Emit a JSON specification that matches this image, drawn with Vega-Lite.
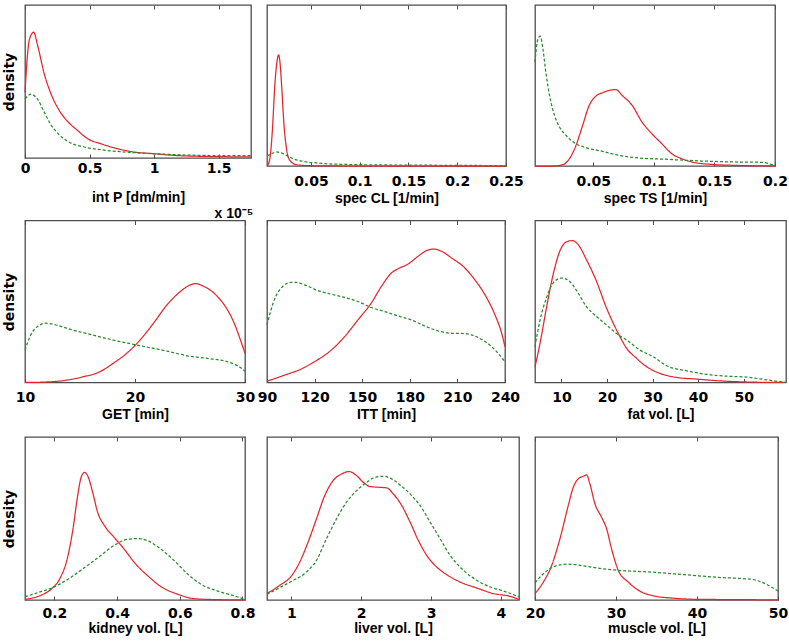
{
  "$schema": "https://vega.github.io/schema/vega-lite/v6.json",
  "padding": {"left": 1, "top": 3, "right": 0, "bottom": 0},
  "datasets": {
    "d": [
      {"p":1,"s":"a","x":0,"y":0.43},{"p":1,"s":"a","x":0.021,"y":0.69},{"p":1,"s":"a","x":0.034,"y":0.774},{"p":1,"s":"a","x":0.067,"y":0.822},{"p":1,"s":"a","x":0.098,"y":0.735},{"p":1,"s":"a","x":0.149,"y":0.55},{"p":1,"s":"a","x":0.201,"y":0.42},{"p":1,"s":"a","x":0.265,"y":0.311},{"p":1,"s":"a","x":0.33,"y":0.239},{"p":1,"s":"a","x":0.407,"y":0.18},{"p":1,"s":"a","x":0.485,"y":0.126},{"p":1,"s":"a","x":0.588,"y":0.093},{"p":1,"s":"a","x":0.716,"y":0.061},{"p":1,"s":"a","x":0.845,"y":0.039},{"p":1,"s":"a","x":1.0,"y":0.028},{"p":1,"s":"a","x":1.155,"y":0.017},{"p":1,"s":"a","x":1.361,"y":0.011},{"p":1,"s":"a","x":1.747,"y":0.007},
      {"p":1,"s":"b","x":0,"y":0.387},{"p":1,"s":"b","x":0.046,"y":0.417},{"p":1,"s":"b","x":0.098,"y":0.383},{"p":1,"s":"b","x":0.149,"y":0.3},{"p":1,"s":"b","x":0.201,"y":0.217},{"p":1,"s":"b","x":0.265,"y":0.152},{"p":1,"s":"b","x":0.33,"y":0.109},{"p":1,"s":"b","x":0.459,"y":0.072},{"p":1,"s":"b","x":0.588,"y":0.054},{"p":1,"s":"b","x":0.845,"y":0.035},{"p":1,"s":"b","x":1.103,"y":0.024},{"p":1,"s":"b","x":1.361,"y":0.017},{"p":1,"s":"b","x":1.747,"y":0.015},

      {"p":2,"s":"a","x":0.0051,"y":0},{"p":2,"s":"a","x":0.0079,"y":0.045},{"p":2,"s":"a","x":0.0106,"y":0.23},{"p":2,"s":"a","x":0.013,"y":0.5},{"p":2,"s":"a","x":0.0154,"y":0.655},{"p":2,"s":"a","x":0.0168,"y":0.69},{"p":2,"s":"a","x":0.0181,"y":0.655},{"p":2,"s":"a","x":0.0202,"y":0.48},{"p":2,"s":"a","x":0.0222,"y":0.273},{"p":2,"s":"a","x":0.025,"y":0.107},{"p":2,"s":"a","x":0.0284,"y":0.035},{"p":2,"s":"a","x":0.0352,"y":0.008},{"p":2,"s":"a","x":0.0489,"y":0.002},{"p":2,"s":"a","x":0.0797,"y":0},{"p":2,"s":"a","x":0.25,"y":0},
      {"p":2,"s":"b","x":0.0051,"y":0.062},{"p":2,"s":"b","x":0.0096,"y":0.076},{"p":2,"s":"b","x":0.0147,"y":0.087},{"p":2,"s":"b","x":0.0198,"y":0.081},{"p":2,"s":"b","x":0.025,"y":0.066},{"p":2,"s":"b","x":0.0318,"y":0.045},{"p":2,"s":"b","x":0.042,"y":0.029},{"p":2,"s":"b","x":0.0557,"y":0.019},{"p":2,"s":"b","x":0.0831,"y":0.01},{"p":2,"s":"b","x":0.1344,"y":0.006},{"p":2,"s":"b","x":0.2028,"y":0.004},{"p":2,"s":"b","x":0.25,"y":0.002},

      {"p":3,"s":"a","x":0.002,"y":0},{"p":3,"s":"a","x":0.0167,"y":0},{"p":3,"s":"a","x":0.0249,"y":0.008},{"p":3,"s":"a","x":0.0304,"y":0.045},{"p":3,"s":"a","x":0.0358,"y":0.128},{"p":3,"s":"a","x":0.0413,"y":0.252},{"p":3,"s":"a","x":0.0467,"y":0.376},{"p":3,"s":"a","x":0.0522,"y":0.434},{"p":3,"s":"a","x":0.0576,"y":0.455},{"p":3,"s":"a","x":0.0631,"y":0.469},{"p":3,"s":"a","x":0.0685,"y":0.475},{"p":3,"s":"a","x":0.074,"y":0.438},{"p":3,"s":"a","x":0.0822,"y":0.376},{"p":3,"s":"a","x":0.0903,"y":0.273},{"p":3,"s":"a","x":0.0985,"y":0.2},{"p":3,"s":"a","x":0.1067,"y":0.138},{"p":3,"s":"a","x":0.1149,"y":0.076},{"p":3,"s":"a","x":0.1231,"y":0.045},{"p":3,"s":"a","x":0.134,"y":0.021},{"p":3,"s":"a","x":0.1476,"y":0.01},{"p":3,"s":"a","x":0.1667,"y":0.004},{"p":3,"s":"a","x":0.2,"y":0},
      {"p":3,"s":"b","x":0.002,"y":0.645},{"p":3,"s":"b","x":0.0044,"y":0.789},{"p":3,"s":"b","x":0.0064,"y":0.806},{"p":3,"s":"b","x":0.0085,"y":0.727},{"p":3,"s":"b","x":0.0113,"y":0.562},{"p":3,"s":"b","x":0.014,"y":0.438},{"p":3,"s":"b","x":0.0181,"y":0.314},{"p":3,"s":"b","x":0.0222,"y":0.242},{"p":3,"s":"b","x":0.0276,"y":0.19},{"p":3,"s":"b","x":0.0358,"y":0.138},{"p":3,"s":"b","x":0.044,"y":0.114},{"p":3,"s":"b","x":0.0576,"y":0.091},{"p":3,"s":"b","x":0.0713,"y":0.066},{"p":3,"s":"b","x":0.0849,"y":0.052},{"p":3,"s":"b","x":0.1122,"y":0.041},{"p":3,"s":"b","x":0.1394,"y":0.031},{"p":3,"s":"b","x":0.1667,"y":0.025},{"p":3,"s":"b","x":0.1885,"y":0.023},{"p":3,"s":"b","x":0.2,"y":0.004},

      {"p":4,"s":"a","x":10,"y":0},{"p":4,"s":"a","x":12.2,"y":0.004},{"p":4,"s":"a","x":13.73,"y":0.014},{"p":4,"s":"a","x":15.26,"y":0.035},{"p":4,"s":"a","x":16.79,"y":0.066},{"p":4,"s":"a","x":18.01,"y":0.118},{"p":4,"s":"a","x":19.24,"y":0.18},{"p":4,"s":"a","x":20.46,"y":0.262},{"p":4,"s":"a","x":21.68,"y":0.366},{"p":4,"s":"a","x":22.91,"y":0.479},{"p":4,"s":"a","x":24.13,"y":0.562},{"p":4,"s":"a","x":25.05,"y":0.603},{"p":4,"s":"a","x":25.5,"y":0.61},{"p":4,"s":"a","x":26.27,"y":0.593},{"p":4,"s":"a","x":27.49,"y":0.531},{"p":4,"s":"a","x":28.41,"y":0.448},{"p":4,"s":"a","x":29.02,"y":0.366},{"p":4,"s":"a","x":29.48,"y":0.283},{"p":4,"s":"a","x":30,"y":0.18},
      {"p":4,"s":"b","x":10,"y":0.2},{"p":4,"s":"b","x":10.52,"y":0.293},{"p":4,"s":"b","x":11.13,"y":0.345},{"p":4,"s":"b","x":11.9,"y":0.366},{"p":4,"s":"b","x":12.81,"y":0.355},{"p":4,"s":"b","x":14.34,"y":0.324},{"p":4,"s":"b","x":16.18,"y":0.293},{"p":4,"s":"b","x":18.01,"y":0.262},{"p":4,"s":"b","x":19.85,"y":0.236},{"p":4,"s":"b","x":21.38,"y":0.215},{"p":4,"s":"b","x":22.91,"y":0.194},{"p":4,"s":"b","x":24.74,"y":0.165},{"p":4,"s":"b","x":26.57,"y":0.149},{"p":4,"s":"b","x":28.41,"y":0.128},{"p":4,"s":"b","x":29.33,"y":0.103},{"p":4,"s":"b","x":30,"y":0.07},

      {"p":5,"s":"a","x":90,"y":0.008},{"p":5,"s":"a","x":101,"y":0.045},{"p":5,"s":"a","x":111.5,"y":0.083},{"p":5,"s":"a","x":119.9,"y":0.128},{"p":5,"s":"a","x":130.5,"y":0.2},{"p":5,"s":"a","x":138.9,"y":0.283},{"p":5,"s":"a","x":147.3,"y":0.386},{"p":5,"s":"a","x":155.7,"y":0.49},{"p":5,"s":"a","x":162.1,"y":0.593},{"p":5,"s":"a","x":168.4,"y":0.676},{"p":5,"s":"a","x":172.6,"y":0.702},{"p":5,"s":"a","x":178.9,"y":0.731},{"p":5,"s":"a","x":185.2,"y":0.779},{"p":5,"s":"a","x":190.5,"y":0.814},{"p":5,"s":"a","x":194.7,"y":0.824},{"p":5,"s":"a","x":200,"y":0.81},{"p":5,"s":"a","x":206.3,"y":0.769},{"p":5,"s":"a","x":214.7,"y":0.707},{"p":5,"s":"a","x":221,"y":0.634},{"p":5,"s":"a","x":227.4,"y":0.541},{"p":5,"s":"a","x":233.7,"y":0.417},{"p":5,"s":"a","x":237.9,"y":0.304},{"p":5,"s":"a","x":240,"y":0.221},
      {"p":5,"s":"b","x":90,"y":0.355},{"p":5,"s":"b","x":94.6,"y":0.51},{"p":5,"s":"b","x":99.9,"y":0.593},{"p":5,"s":"b","x":105.2,"y":0.618},{"p":5,"s":"b","x":108.3,"y":0.618},{"p":5,"s":"b","x":113.6,"y":0.603},{"p":5,"s":"b","x":122,"y":0.568},{"p":5,"s":"b","x":130.5,"y":0.545},{"p":5,"s":"b","x":138.9,"y":0.525},{"p":5,"s":"b","x":147.3,"y":0.5},{"p":5,"s":"b","x":155.7,"y":0.463},{"p":5,"s":"b","x":164.2,"y":0.438},{"p":5,"s":"b","x":172.6,"y":0.411},{"p":5,"s":"b","x":181,"y":0.386},{"p":5,"s":"b","x":189.4,"y":0.349},{"p":5,"s":"b","x":197.9,"y":0.318},{"p":5,"s":"b","x":206.3,"y":0.304},{"p":5,"s":"b","x":214.7,"y":0.302},{"p":5,"s":"b","x":223.2,"y":0.277},{"p":5,"s":"b","x":231.6,"y":0.221},{"p":5,"s":"b","x":240,"y":0.128},

      {"p":6,"s":"a","x":4.2,"y":0.097},{"p":6,"s":"a","x":5.23,"y":0.231},{"p":6,"s":"a","x":6.7,"y":0.459},{"p":6,"s":"a","x":8.17,"y":0.665},{"p":6,"s":"a","x":9.63,"y":0.81},{"p":6,"s":"a","x":11.1,"y":0.868},{"p":6,"s":"a","x":12.42,"y":0.876},{"p":6,"s":"a","x":13.67,"y":0.851},{"p":6,"s":"a","x":15.5,"y":0.758},{"p":6,"s":"a","x":17.71,"y":0.624},{"p":6,"s":"a","x":19.91,"y":0.459},{"p":6,"s":"a","x":21.38,"y":0.366},{"p":6,"s":"a","x":22.84,"y":0.283},{"p":6,"s":"a","x":24.31,"y":0.211},{"p":6,"s":"a","x":26.51,"y":0.149},{"p":6,"s":"a","x":28.72,"y":0.097},{"p":6,"s":"a","x":31.65,"y":0.056},{"p":6,"s":"a","x":35.32,"y":0.031},{"p":6,"s":"a","x":39.72,"y":0.021},{"p":6,"s":"a","x":44.86,"y":0.01},{"p":6,"s":"a","x":52.2,"y":0.002},{"p":6,"s":"a","x":59.3,"y":0},
      {"p":6,"s":"b","x":4.2,"y":0.221},{"p":6,"s":"b","x":5.23,"y":0.376},{"p":6,"s":"b","x":6.7,"y":0.521},{"p":6,"s":"b","x":8.17,"y":0.614},{"p":6,"s":"b","x":10.0,"y":0.645},{"p":6,"s":"b","x":11.83,"y":0.624},{"p":6,"s":"b","x":13.67,"y":0.552},{"p":6,"s":"b","x":15.5,"y":0.469},{"p":6,"s":"b","x":17.71,"y":0.407},{"p":6,"s":"b","x":19.91,"y":0.355},{"p":6,"s":"b","x":22.11,"y":0.302},{"p":6,"s":"b","x":24.31,"y":0.262},{"p":6,"s":"b","x":27.25,"y":0.2},{"p":6,"s":"b","x":30.18,"y":0.159},{"p":6,"s":"b","x":33.12,"y":0.103},{"p":6,"s":"b","x":37.52,"y":0.072},{"p":6,"s":"b","x":41.93,"y":0.05},{"p":6,"s":"b","x":46.33,"y":0.039},{"p":6,"s":"b","x":50.73,"y":0.033},{"p":6,"s":"b","x":54.4,"y":0.019},{"p":6,"s":"b","x":59.3,"y":0},

      {"p":7,"s":"a","x":0.106,"y":0.004},{"p":7,"s":"a","x":0.157,"y":0.029},{"p":7,"s":"a","x":0.189,"y":0.066},{"p":7,"s":"a","x":0.216,"y":0.127},{"p":7,"s":"a","x":0.243,"y":0.27},{"p":7,"s":"a","x":0.259,"y":0.434},{"p":7,"s":"a","x":0.274,"y":0.639},{"p":7,"s":"a","x":0.285,"y":0.752},{"p":7,"s":"a","x":0.296,"y":0.783},{"p":7,"s":"a","x":0.306,"y":0.762},{"p":7,"s":"a","x":0.322,"y":0.66},{"p":7,"s":"a","x":0.338,"y":0.537},{"p":7,"s":"a","x":0.36,"y":0.455},{"p":7,"s":"a","x":0.391,"y":0.383},{"p":7,"s":"a","x":0.423,"y":0.311},{"p":7,"s":"a","x":0.455,"y":0.23},{"p":7,"s":"a","x":0.498,"y":0.148},{"p":7,"s":"a","x":0.54,"y":0.082},{"p":7,"s":"a","x":0.594,"y":0.035},{"p":7,"s":"a","x":0.647,"y":0.008},{"p":7,"s":"a","x":0.721,"y":0.002},{"p":7,"s":"a","x":0.808,"y":0},
      {"p":7,"s":"b","x":0.106,"y":0.02},{"p":7,"s":"b","x":0.147,"y":0.045},{"p":7,"s":"b","x":0.189,"y":0.072},{"p":7,"s":"b","x":0.243,"y":0.127},{"p":7,"s":"b","x":0.296,"y":0.199},{"p":7,"s":"b","x":0.349,"y":0.275},{"p":7,"s":"b","x":0.391,"y":0.336},{"p":7,"s":"b","x":0.434,"y":0.373},{"p":7,"s":"b","x":0.466,"y":0.377},{"p":7,"s":"b","x":0.498,"y":0.363},{"p":7,"s":"b","x":0.54,"y":0.311},{"p":7,"s":"b","x":0.583,"y":0.24},{"p":7,"s":"b","x":0.626,"y":0.158},{"p":7,"s":"b","x":0.668,"y":0.096},{"p":7,"s":"b","x":0.721,"y":0.055},{"p":7,"s":"b","x":0.774,"y":0.025},{"p":7,"s":"b","x":0.808,"y":0.004},

      {"p":8,"s":"a","x":0.651,"y":0.039},{"p":8,"s":"a","x":0.833,"y":0.09},{"p":8,"s":"a","x":1.0,"y":0.147},{"p":8,"s":"a","x":1.12,"y":0.233},{"p":8,"s":"a","x":1.239,"y":0.355},{"p":8,"s":"a","x":1.359,"y":0.498},{"p":8,"s":"a","x":1.478,"y":0.641},{"p":8,"s":"a","x":1.598,"y":0.733},{"p":8,"s":"a","x":1.718,"y":0.773},{"p":8,"s":"a","x":1.828,"y":0.788},{"p":8,"s":"a","x":1.933,"y":0.763},{"p":8,"s":"a","x":2.029,"y":0.722},{"p":8,"s":"a","x":2.124,"y":0.696},{"p":8,"s":"a","x":2.244,"y":0.692},{"p":8,"s":"a","x":2.364,"y":0.688},{"p":8,"s":"a","x":2.459,"y":0.651},{"p":8,"s":"a","x":2.579,"y":0.58},{"p":8,"s":"a","x":2.699,"y":0.478},{"p":8,"s":"a","x":2.818,"y":0.365},{"p":8,"s":"a","x":2.938,"y":0.273},{"p":8,"s":"a","x":3.081,"y":0.202},{"p":8,"s":"a","x":3.225,"y":0.155},{"p":8,"s":"a","x":3.416,"y":0.11},{"p":8,"s":"a","x":3.656,"y":0.073},{"p":8,"s":"a","x":3.895,"y":0.039},{"p":8,"s":"a","x":4.134,"y":0.022},{"p":8,"s":"a","x":4.258,"y":0.004},
      {"p":8,"s":"b","x":0.651,"y":0.035},{"p":8,"s":"b","x":0.833,"y":0.076},{"p":8,"s":"b","x":1.024,"y":0.12},{"p":8,"s":"b","x":1.215,"y":0.171},{"p":8,"s":"b","x":1.359,"y":0.243},{"p":8,"s":"b","x":1.502,"y":0.376},{"p":8,"s":"b","x":1.646,"y":0.498},{"p":8,"s":"b","x":1.789,"y":0.6},{"p":8,"s":"b","x":1.933,"y":0.671},{"p":8,"s":"b","x":2.077,"y":0.722},{"p":8,"s":"b","x":2.196,"y":0.753},{"p":8,"s":"b","x":2.316,"y":0.759},{"p":8,"s":"b","x":2.435,"y":0.743},{"p":8,"s":"b","x":2.555,"y":0.706},{"p":8,"s":"b","x":2.699,"y":0.651},{"p":8,"s":"b","x":2.842,"y":0.58},{"p":8,"s":"b","x":2.986,"y":0.478},{"p":8,"s":"b","x":3.129,"y":0.376},{"p":8,"s":"b","x":3.273,"y":0.273},{"p":8,"s":"b","x":3.464,"y":0.182},{"p":8,"s":"b","x":3.656,"y":0.12},{"p":8,"s":"b","x":3.847,"y":0.08},{"p":8,"s":"b","x":4.038,"y":0.055},{"p":8,"s":"b","x":4.258,"y":0.02},

      {"p":9,"s":"a","x":20,"y":0.039},{"p":9,"s":"a","x":21.03,"y":0.11},{"p":9,"s":"a","x":22.06,"y":0.212},{"p":9,"s":"a","x":23.08,"y":0.376},{"p":9,"s":"a","x":24.11,"y":0.58},{"p":9,"s":"a","x":24.73,"y":0.692},{"p":9,"s":"a","x":25.34,"y":0.743},{"p":9,"s":"a","x":25.96,"y":0.759},{"p":9,"s":"a","x":26.37,"y":0.767},{"p":9,"s":"a","x":26.78,"y":0.712},{"p":9,"s":"a","x":27.4,"y":0.59},{"p":9,"s":"a","x":28.22,"y":0.508},{"p":9,"s":"a","x":28.84,"y":0.437},{"p":9,"s":"a","x":29.45,"y":0.314},{"p":9,"s":"a","x":30.28,"y":0.182},{"p":9,"s":"a","x":31.51,"y":0.11},{"p":9,"s":"a","x":33.15,"y":0.049},{"p":9,"s":"a","x":34.8,"y":0.024},{"p":9,"s":"a","x":36.85,"y":0.012},{"p":9,"s":"a","x":40.14,"y":0.004},{"p":9,"s":"a","x":46.31,"y":0.002},{"p":9,"s":"a","x":50,"y":0},
      {"p":9,"s":"b","x":20,"y":0.106},{"p":9,"s":"b","x":21.03,"y":0.161},{"p":9,"s":"b","x":22.06,"y":0.198},{"p":9,"s":"b","x":23.08,"y":0.216},{"p":9,"s":"b","x":24.11,"y":0.22},{"p":9,"s":"b","x":26.17,"y":0.208},{"p":9,"s":"b","x":28.22,"y":0.192},{"p":9,"s":"b","x":30.28,"y":0.182},{"p":9,"s":"b","x":34.39,"y":0.171},{"p":9,"s":"b","x":38.5,"y":0.155},{"p":9,"s":"b","x":42.61,"y":0.139},{"p":9,"s":"b","x":46.72,"y":0.127},{"p":9,"s":"b","x":47.95,"y":0.11},{"p":9,"s":"b","x":49.18,"y":0.08},{"p":9,"s":"b","x":50,"y":0.055}
    ]
  },
  "data": {"name": "d"},
  "columns": 3,
  "spacing": {"row": 54.5, "column": 16},
  "bounds": "flush",
  "align": "each",
  "concat": [
    {"width": 226, "height": 153, "transform": [{"filter": "datum.p == 1"}],
     "title": {"text": "x 10⁻⁵", "orient": "bottom", "anchor": "end", "offset": 3},
     "layer": [
      {"mark": "line", "encoding": {
        "x": {"field": "x", "type": "quantitative", "scale": {"domain": [0, 1.75], "nice": false, "zero": false}, "axis": {"values": [0, 0.5, 1, 1.5], "format": "~f", "title": "int P [dm/min]", "labelPadding": 7, "titlePadding": 15}},
        "y": {"field": "y", "type": "quantitative", "scale": {"domain": [0, 1], "nice": false}, "axis": {"title": "density"}},
        "color": {"field": "s", "type": "nominal", "scale": {"domain": ["a", "b"], "range": ["#e3262d", "#2a8a2a"]}, "legend": null},
        "strokeDash": {"field": "s", "type": "nominal", "scale": {"domain": ["a", "b"], "range": [[1, 0], [3, 2]]}, "legend": null}}},
      {"mark": {"type": "point", "opacity": 0}, "encoding": {"x": {"field": "x", "type": "quantitative", "axis": {"orient": "top", "values": [0, 0.5, 1, 1.5], "labels": false, "title": null}}}}
     ],
     "resolve": {"axis": {"x": "independent"}}},
    {"width": 239, "height": 161, "transform": [{"filter": "datum.p == 2"}],
     "layer": [
      {"mark": "line", "encoding": {
        "x": {"field": "x", "type": "quantitative", "scale": {"domain": [0.005, 0.25], "nice": false, "zero": false}, "axis": {"values": [0.05, 0.1, 0.15, 0.2, 0.25], "format": "~f", "title": "spec CL [1/min]"}},
        "y": {"field": "y", "type": "quantitative", "scale": {"domain": [0, 1], "nice": false}, "axis": null},
        "color": {"field": "s", "type": "nominal", "scale": {"domain": ["a", "b"], "range": ["#e3262d", "#2a8a2a"]}, "legend": null},
        "strokeDash": {"field": "s", "type": "nominal", "scale": {"domain": ["a", "b"], "range": [[1, 0], [3, 2]]}, "legend": null}}},
      {"mark": {"type": "point", "opacity": 0}, "encoding": {"x": {"field": "x", "type": "quantitative", "axis": {"orient": "top", "values": [0.05, 0.1, 0.15, 0.2, 0.25], "labels": false, "title": null}}}}
     ],
     "resolve": {"axis": {"x": "independent"}}},
    {"width": 240, "height": 161, "transform": [{"filter": "datum.p == 3"}],
     "layer": [
      {"mark": "line", "encoding": {
        "x": {"field": "x", "type": "quantitative", "scale": {"domain": [0.002, 0.2], "nice": false, "zero": false}, "axis": {"values": [0.05, 0.1, 0.15, 0.2], "format": "~f", "title": "spec TS [1/min]"}},
        "y": {"field": "y", "type": "quantitative", "scale": {"domain": [0, 1], "nice": false}, "axis": null},
        "color": {"field": "s", "type": "nominal", "scale": {"domain": ["a", "b"], "range": ["#e3262d", "#2a8a2a"]}, "legend": null},
        "strokeDash": {"field": "s", "type": "nominal", "scale": {"domain": ["a", "b"], "range": [[1, 0], [3, 2]]}, "legend": null}}},
      {"mark": {"type": "point", "opacity": 0}, "encoding": {"x": {"field": "x", "type": "quantitative", "axis": {"orient": "top", "values": [0.05, 0.1, 0.15, 0.2], "labels": false, "title": null}}}}
     ],
     "resolve": {"axis": {"x": "independent"}}},
    {"width": 220, "height": 162, "transform": [{"filter": "datum.p == 4"}],
     "layer": [
      {"mark": "line", "encoding": {
        "x": {"field": "x", "type": "quantitative", "scale": {"domain": [10, 30], "nice": false, "zero": false}, "axis": {"values": [10, 20, 30], "format": "~f", "title": "GET [min]"}},
        "y": {"field": "y", "type": "quantitative", "scale": {"domain": [0, 1], "nice": false}, "axis": {"title": "density"}},
        "color": {"field": "s", "type": "nominal", "scale": {"domain": ["a", "b"], "range": ["#e3262d", "#2a8a2a"]}, "legend": null},
        "strokeDash": {"field": "s", "type": "nominal", "scale": {"domain": ["a", "b"], "range": [[1, 0], [3, 2]]}, "legend": null}}},
      {"mark": {"type": "point", "opacity": 0}, "encoding": {"x": {"field": "x", "type": "quantitative", "axis": {"orient": "top", "values": [10, 20, 30], "labels": false, "title": null}}}}
     ],
     "resolve": {"axis": {"x": "independent"}}},
    {"width": 238, "height": 162, "transform": [{"filter": "datum.p == 5"}],
     "layer": [
      {"mark": "line", "encoding": {
        "x": {"field": "x", "type": "quantitative", "scale": {"domain": [90, 240], "nice": false, "zero": false}, "axis": {"values": [90, 120, 150, 180, 210, 240], "format": "~f", "title": "ITT [min]"}},
        "y": {"field": "y", "type": "quantitative", "scale": {"domain": [0, 1], "nice": false}, "axis": null},
        "color": {"field": "s", "type": "nominal", "scale": {"domain": ["a", "b"], "range": ["#e3262d", "#2a8a2a"]}, "legend": null},
        "strokeDash": {"field": "s", "type": "nominal", "scale": {"domain": ["a", "b"], "range": [[1, 0], [3, 2]]}, "legend": null}}},
      {"mark": {"type": "point", "opacity": 0}, "encoding": {"x": {"field": "x", "type": "quantitative", "axis": {"orient": "top", "values": [90, 120, 150, 180, 210, 240], "labels": false, "title": null}}}}
     ],
     "resolve": {"axis": {"x": "independent"}}},
    {"width": 251, "height": 162, "transform": [{"filter": "datum.p == 6"}],
     "layer": [
      {"mark": "line", "encoding": {
        "x": {"field": "x", "type": "quantitative", "scale": {"domain": [4.2, 59.3], "nice": false, "zero": false}, "axis": {"values": [10, 20, 30, 40, 50], "format": "~f", "title": "fat vol. [L]"}},
        "y": {"field": "y", "type": "quantitative", "scale": {"domain": [0, 1], "nice": false}, "axis": null},
        "color": {"field": "s", "type": "nominal", "scale": {"domain": ["a", "b"], "range": ["#e3262d", "#2a8a2a"]}, "legend": null},
        "strokeDash": {"field": "s", "type": "nominal", "scale": {"domain": ["a", "b"], "range": [[1, 0], [3, 2]]}, "legend": null}}},
      {"mark": {"type": "point", "opacity": 0}, "encoding": {"x": {"field": "x", "type": "quantitative", "axis": {"orient": "top", "values": [10, 20, 30, 40, 50], "labels": false, "title": null}}}}
     ],
     "resolve": {"axis": {"x": "independent"}}},
    {"width": 220, "height": 163, "transform": [{"filter": "datum.p == 7"}],
     "layer": [
      {"mark": "line", "encoding": {
        "x": {"field": "x", "type": "quantitative", "scale": {"domain": [0.106, 0.808], "nice": false, "zero": false}, "axis": {"values": [0.2, 0.4, 0.6, 0.8], "format": "~f", "title": "kidney vol. [L]", "labelPadding": 10, "titlePadding": 1}},
        "y": {"field": "y", "type": "quantitative", "scale": {"domain": [0, 1], "nice": false}, "axis": {"title": "density"}},
        "color": {"field": "s", "type": "nominal", "scale": {"domain": ["a", "b"], "range": ["#e3262d", "#2a8a2a"]}, "legend": null},
        "strokeDash": {"field": "s", "type": "nominal", "scale": {"domain": ["a", "b"], "range": [[1, 0], [3, 2]]}, "legend": null}}},
      {"mark": {"type": "point", "opacity": 0}, "encoding": {"x": {"field": "x", "type": "quantitative", "axis": {"orient": "top", "values": [0.2, 0.4, 0.6, 0.8], "labels": false, "title": null}}}}
     ],
     "resolve": {"axis": {"x": "independent"}}},
    {"width": 252, "height": 163, "transform": [{"filter": "datum.p == 8"}],
     "layer": [
      {"mark": "line", "encoding": {
        "x": {"field": "x", "type": "quantitative", "scale": {"domain": [0.651, 4.258], "nice": false, "zero": false}, "axis": {"values": [1, 2, 3, 4], "format": "~f", "title": "liver vol. [L]", "labelPadding": 10, "titlePadding": 1}},
        "y": {"field": "y", "type": "quantitative", "scale": {"domain": [0, 1], "nice": false}, "axis": null},
        "color": {"field": "s", "type": "nominal", "scale": {"domain": ["a", "b"], "range": ["#e3262d", "#2a8a2a"]}, "legend": null},
        "strokeDash": {"field": "s", "type": "nominal", "scale": {"domain": ["a", "b"], "range": [[1, 0], [3, 2]]}, "legend": null}}},
      {"mark": {"type": "point", "opacity": 0}, "encoding": {"x": {"field": "x", "type": "quantitative", "axis": {"orient": "top", "values": [1, 2, 3, 4], "labels": false, "title": null}}}}
     ],
     "resolve": {"axis": {"x": "independent"}}},
    {"width": 243, "height": 163, "transform": [{"filter": "datum.p == 9"}],
     "layer": [
      {"mark": "line", "encoding": {
        "x": {"field": "x", "type": "quantitative", "scale": {"domain": [20, 50], "nice": false, "zero": false}, "axis": {"values": [20, 30, 40, 50], "format": "~f", "title": "muscle vol. [L]", "labelPadding": 10, "titlePadding": 1}},
        "y": {"field": "y", "type": "quantitative", "scale": {"domain": [0, 1], "nice": false}, "axis": null},
        "color": {"field": "s", "type": "nominal", "scale": {"domain": ["a", "b"], "range": ["#e3262d", "#2a8a2a"]}, "legend": null},
        "strokeDash": {"field": "s", "type": "nominal", "scale": {"domain": ["a", "b"], "range": [[1, 0], [3, 2]]}, "legend": null}}},
      {"mark": {"type": "point", "opacity": 0}, "encoding": {"x": {"field": "x", "type": "quantitative", "axis": {"orient": "top", "values": [20, 30, 40, 50], "labels": false, "title": null}}}}
     ],
     "resolve": {"axis": {"x": "independent"}}}
  ],
  "config": {
    "background": "white",
    "view": {"stroke": "#4d4d4d", "strokeWidth": 1.3},
    "axis": {"grid": false, "domain": false, "labelFont": "DejaVu Sans", "labelFontSize": 14, "labelFontWeight": "bold", "labelColor": "#000000", "titleFont": "Liberation Sans", "titleFontSize": 14, "titleFontWeight": "bold", "titleColor": "#000000", "tickColor": "#4d4d4d", "tickSize": -4, "labelPadding": 12, "titlePadding": 3, "labelFlush": false, "labelOverlap": false, "labelBound": false},
    "axisY": {"ticks": false, "labels": false, "titlePadding": 9, "titleFont": "DejaVu Sans"},
    "title": {"font": "Liberation Sans", "fontSize": 14, "fontWeight": "bold", "color": "#000000"},
    "line": {"strokeWidth": 1.25, "interpolate": "monotone", "clip": true}
  }
}
